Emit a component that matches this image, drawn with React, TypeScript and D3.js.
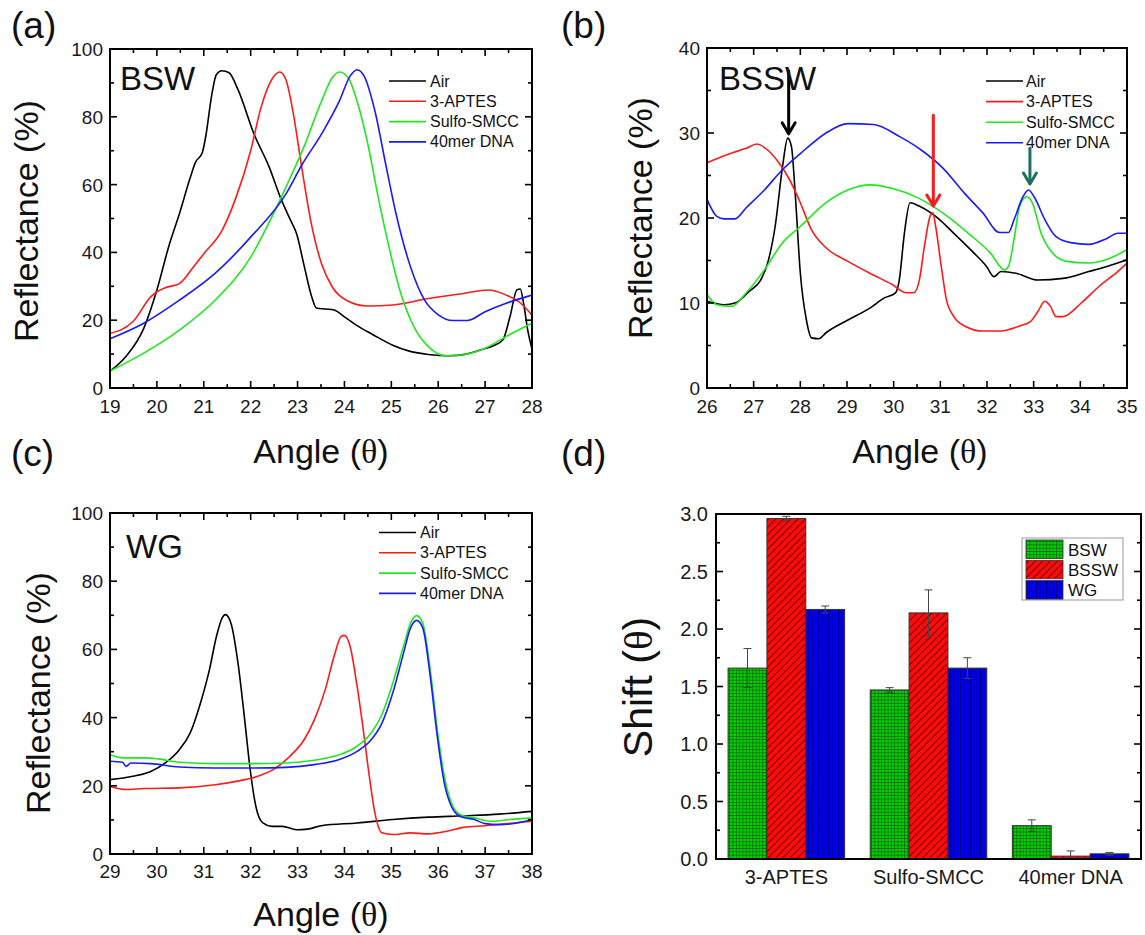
import React from 'react';
import * as d3 from 'd3';

const FONT = '"Liberation Sans", Arial, Helvetica, sans-serif';
const SERIF = '"Liberation Serif", "DejaVu Serif", serif';

type P = [number, number];

const seriesNames = ['Air', '3-APTES', 'Sulfo-SMCC', '40mer DNA'];
const seriesColors = ['#000000', '#ff1a1a', '#1fe81f', '#1a1aff'];

// ---------- Panel (a) BSW ----------
const bswAir: P[] = [
  [19.0, 5], [19.34, 9.3], [19.72, 17.6], [20.0, 28.9], [20.25, 41.6], [20.48, 51.4], [20.71, 62],
  [20.82, 66.5], [20.97, 69.5], [21.05, 74.9], [21.16, 85.6], [21.27, 92.5], [21.39, 93.6], [21.54, 93],
  [21.73, 88], [22.07, 75], [22.4, 65], [22.64, 56], [22.85, 49.5], [22.98, 45.5], [23.13, 36.7],
  [23.3, 27], [23.4, 23.6], [23.6, 23.3], [23.78, 23.0], [24.0, 21], [24.27, 18.4], [24.6, 15.8],
  [25.03, 12.6], [25.4, 10.8], [25.79, 9.9], [26.24, 9.5], [26.6, 10], [26.92, 11.3], [27.2, 12.6],
  [27.38, 14.2], [27.53, 21], [27.68, 29], [27.75, 29.2], [27.82, 25], [27.91, 17], [28.0, 11.5],
];
const bswApt: P[] = [
  [19.0, 16.1], [19.49, 19.6], [19.87, 26.9], [20.0, 28.4], [20.18, 29.6], [20.48, 30.8], [20.78, 35.7],
  [21.0, 39.6], [21.39, 46.5], [21.69, 56.3], [22.0, 70], [22.22, 82.7], [22.45, 91], [22.62, 93.2],
  [22.75, 91], [22.9, 81.7], [23.09, 65], [23.28, 49.4], [23.51, 36.7], [23.74, 29.8], [24.04, 25.9],
  [24.5, 24.2], [25.03, 24.5], [25.79, 26.4], [26.54, 27.9], [27.07, 28.9], [27.45, 27.4], [27.76, 25],
  [28.0, 21.5],
];
const bswSmcc: P[] = [
  [19.0, 5], [19.72, 10.3], [20.48, 17.1], [21.24, 25.9], [22.0, 38.6], [22.45, 50.4], [22.75, 59.2],
  [23.13, 70.9], [23.51, 84.6], [23.74, 91.5], [23.89, 93.2], [24.08, 91.5], [24.27, 84.6], [24.5, 71.9],
  [24.72, 56.3], [24.95, 41.6], [25.18, 28.9], [25.48, 18.1], [25.79, 12.2], [26.16, 9.5], [26.54, 9.8],
  [27.0, 11.7], [27.45, 15.2], [28.0, 19.1],
];
const bswDna: P[] = [
  [19.0, 14.5], [19.72, 19.1], [20.48, 25.9], [21.24, 33.8], [22.0, 44.5], [22.75, 57.2], [23.1, 66],
  [23.51, 74.9], [23.89, 84.6], [24.12, 92], [24.27, 93.9], [24.42, 92], [24.65, 81.7], [24.88, 66],
  [25.1, 51.4], [25.41, 35.7], [25.71, 25.9], [26.01, 21.5], [26.31, 19.9], [26.62, 19.9], [27.0, 22.5],
  [27.45, 25], [28.0, 27.4],
];

// ---------- Panel (b) BSSW ----------
const bsswAir: P[] = [
  [26.0, 10.2], [26.37, 9.8], [26.6, 10], [26.91, 11.4], [27.15, 12.7], [27.3, 14.7], [27.46, 19],
  [27.62, 26.1], [27.73, 29.4], [27.81, 28.4], [27.89, 22.9], [28.0, 13.5], [28.13, 8], [28.24, 5.9],
  [28.4, 5.8], [28.55, 6.5], [29.02, 8], [29.49, 9.4], [29.8, 10.6], [30.04, 11.2], [30.12, 12.7],
  [30.23, 18.2], [30.35, 21.8], [30.47, 21.6], [30.9, 20.2], [31.29, 18.2], [31.68, 16.1], [31.99, 14.3],
  [32.15, 13.1], [32.3, 13.7], [32.62, 13.5], [33.09, 12.7], [33.63, 12.9], [34.18, 13.7], [34.57, 14.3],
  [35.0, 15.1],
];
const bsswApt: P[] = [
  [26.0, 26.5], [26.45, 27.5], [26.84, 28.2], [27.07, 28.7], [27.3, 28], [27.54, 26.5], [27.77, 24.5],
  [28.0, 21.8], [28.24, 18.6], [28.55, 16.5], [29.02, 14.9], [29.49, 13.5], [29.96, 12.2], [30.27, 11.2],
  [30.43, 11.2], [30.55, 12.7], [30.66, 16.7], [30.78, 20.2], [30.84, 20.6], [30.9, 19], [31.02, 14.3],
  [31.13, 10.4], [31.29, 8.4], [31.52, 7.3], [31.91, 6.7], [32.3, 6.7], [32.7, 7.3], [32.93, 7.8],
  [33.09, 9], [33.24, 10.2], [33.36, 9.6], [33.48, 8.4], [33.63, 8.4], [34.02, 10], [34.41, 12],
  [34.8, 13.7], [35.0, 14.7],
];
const bsswSmcc: P[] = [
  [26.0, 11], [26.21, 9.8], [26.52, 9.6], [26.84, 11.2], [27.23, 13.9], [27.62, 17.1], [28.0, 19],
  [28.55, 21.8], [29.02, 23.3], [29.49, 23.9], [29.96, 23.5], [30.51, 22.4], [31.05, 20.6], [31.6, 18.2],
  [32.07, 15.9], [32.38, 13.9], [32.46, 14.3], [32.58, 17.5], [32.7, 21.4], [32.85, 22.5], [32.97, 21.8],
  [33.16, 18.2], [33.4, 15.9], [33.71, 14.9], [34.18, 14.7], [34.65, 15.3], [35.0, 16.3],
];
const bsswDna: P[] = [
  [26.0, 22.2], [26.21, 20.2], [26.37, 19.9], [26.6, 19.9], [26.84, 21.2], [27.23, 23.3], [27.62, 25.7],
  [28.09, 28], [28.55, 30], [29.02, 31.1], [29.57, 31], [30.12, 29.6], [30.59, 28], [31.05, 25.9],
  [31.52, 22.9], [31.91, 20.6], [32.27, 18.3], [32.46, 18.3], [32.58, 19.8], [32.77, 22.5], [32.89, 23.3],
  [33.01, 22.5], [33.24, 19.8], [33.48, 17.8], [33.79, 17.1], [34.18, 16.9], [34.57, 17.6], [34.8, 18.2],
  [35.0, 18.2],
];
const bsswArrowX = [27.75, 30.85, 32.92];
const bsswArrowFrom = [37.3, 32.1, 28.2];
const bsswArrowTo = [29.9, 21.4, 24.0];
const bsswArrowColors = ['#000000', '#ff1a1a', '#1f6e60'];

// ---------- Panel (c) WG ----------
const wgAir: P[] = [
  [29.0, 21.8], [29.49, 22.8], [29.87, 24.2], [30.18, 26.7], [30.48, 30.6], [30.71, 35.5], [30.93, 44.3],
  [31.12, 54], [31.27, 63.8], [31.39, 69.2], [31.46, 70.2], [31.58, 67.7], [31.73, 56], [31.88, 38.4],
  [31.99, 24.7], [32.11, 14], [32.26, 9.1], [32.45, 8.1], [32.68, 8.1], [32.98, 7.1], [33.21, 7.3],
  [33.51, 8.3], [34.27, 9.1], [35.03, 10.1], [35.79, 10.8], [36.54, 11.2], [37.3, 11.7], [38.0, 12.5],
];
const wgApt: P[] = [
  [29.0, 19.8], [29.34, 18.9], [29.72, 19.2], [30.48, 19.4], [31.24, 20.3], [31.69, 21.3], [32.15, 22.8],
  [32.53, 25.2], [32.83, 28.6], [33.14, 33.5], [33.36, 39.4], [33.59, 48.2], [33.78, 58], [33.93, 63.8],
  [34.0, 64.1], [34.12, 60.9], [34.27, 49.2], [34.42, 34.5], [34.53, 22.8], [34.65, 12], [34.8, 6.2],
  [35.03, 5.7], [35.41, 6.2], [35.79, 5.9], [36.16, 6.6], [36.54, 7.8], [37.0, 8.3], [37.45, 8.9],
  [38.0, 9.6],
];
const wgSmcc: P[] = [
  [29.0, 29.1], [29.27, 28.2], [29.72, 28.2], [30.02, 27.9], [30.48, 26.9], [31.24, 26.5], [32.0, 26.5],
  [32.75, 26.7], [33.36, 27.5], [33.89, 29.1], [34.27, 31.6], [34.57, 35.5], [34.8, 40.9], [35.03, 50.1],
  [35.26, 60.9], [35.41, 67.7], [35.54, 69.9], [35.67, 67.7], [35.83, 54.1], [35.98, 36.5], [36.13, 22.8],
  [36.28, 15], [36.47, 11.5], [36.77, 10.6], [37.15, 9.6], [37.53, 10.1], [38.0, 10.6],
];
const wgDna: P[] = [
  [29.0, 27.2], [29.27, 26.9], [29.34, 25.7], [29.45, 26.7], [29.87, 26.5], [30.48, 25.5], [31.24, 25.2],
  [32.0, 25.2], [32.75, 25.4], [33.36, 26.2], [33.89, 27.7], [34.27, 30.1], [34.57, 33.5], [34.8, 38.4],
  [35.03, 47.2], [35.26, 58.9], [35.41, 66.3], [35.54, 68.5], [35.67, 66.3], [35.83, 52.1], [35.98, 34.5],
  [36.13, 20.8], [36.28, 14], [36.47, 11], [36.77, 10.1], [37.0, 8.9], [37.3, 8.6], [37.68, 9.1],
  [38.0, 10.1],
];

// ---------- Panel (d) shifts ----------
const shiftCategories = ['3-APTES', 'Sulfo-SMCC', '40mer DNA'];
const shiftSeries = ['BSW', 'BSSW', 'WG'];
const shiftBSW = [1.66, 1.47, 0.29];
const errBSW = [0.17, 0.02, 0.05];
const shiftBSSW = [2.96, 2.14, 0.025];
const errBSSW = [0.02, 0.2, 0.045];
const shiftWG = [2.17, 1.66, 0.045];
const errWG = [0.03, 0.09, 0.012];
const shiftTicks = [0, 0.5, 1.0, 1.5, 2.0, 2.5, 3.0];

type PanelCfg = {
  left: number; right: number; top: number; bottom: number;
  xDomain: [number, number]; yDomain: [number, number];
  xStep: number; yStep: number;
  series: P[][];
  tag: string; tagX: number; tagY: number;
  name: string; nameX: number; nameY: number;
  legLine: [number, number]; legTextX: number; legY0: number; legStep: number;
  yLabX: number; yLabY: number; xLabX: number; xLabY: number;
  xTickY: number;
};

function Theta() {
  return <tspan fontFamily={SERIF}>θ</tspan>;
}

function LinePanel({ c, children }: { c: PanelCfg; children?: (x: any, y: any) => React.ReactNode }) {
  const x = d3.scaleLinear().domain(c.xDomain).range([c.left, c.right]);
  const y = d3.scaleLinear().domain(c.yDomain).range([c.bottom, c.top]);
  const line = d3.line<P>().x(d => x(d[0])).y(d => y(d[1])).curve(d3.curveMonotoneX);
  const xMaj = d3.range(c.xDomain[0], c.xDomain[1] + 1e-9, c.xStep);
  const xMin = d3.range(c.xDomain[0] + c.xStep / 2, c.xDomain[1], c.xStep);
  const yMaj = d3.range(c.yDomain[0], c.yDomain[1] + 1e-9, c.yStep);
  const yMin = d3.range(c.yDomain[0] + c.yStep / 2, c.yDomain[1], c.yStep);
  const M = 7, m = 4;
  return (
    <g>
      <clipPath id={`clip-${c.tag}`}>
        <rect x={c.left} y={c.top} width={c.right - c.left} height={c.bottom - c.top} />
      </clipPath>
      <g clipPath={`url(#clip-${c.tag})`}>
        {c.series.map((s, i) => (
          <path key={i} d={line(s) || ''} fill="none" stroke={seriesColors[i]} strokeWidth={1.6} />
        ))}
      </g>
      {children && children(x, y)}
      <g stroke="#000" strokeWidth={1.6}>
        {xMaj.map(v => (
          <g key={'xM' + v}>
            <line x1={x(v)} x2={x(v)} y1={c.bottom} y2={c.bottom - M} />
            <line x1={x(v)} x2={x(v)} y1={c.top} y2={c.top + M} />
          </g>
        ))}
        {xMin.map(v => (
          <g key={'xm' + v}>
            <line x1={x(v)} x2={x(v)} y1={c.bottom} y2={c.bottom - m} />
            <line x1={x(v)} x2={x(v)} y1={c.top} y2={c.top + m} />
          </g>
        ))}
        {yMaj.map(v => (
          <g key={'yM' + v}>
            <line x1={c.left} x2={c.left + M} y1={y(v)} y2={y(v)} />
            <line x1={c.right} x2={c.right - M} y1={y(v)} y2={y(v)} />
          </g>
        ))}
        {yMin.map(v => (
          <g key={'ym' + v}>
            <line x1={c.left} x2={c.left + m} y1={y(v)} y2={y(v)} />
            <line x1={c.right} x2={c.right - m} y1={y(v)} y2={y(v)} />
          </g>
        ))}
      </g>
      <rect x={c.left} y={c.top} width={c.right - c.left} height={c.bottom - c.top} fill="none" stroke="#000" strokeWidth={2} />
      <g fontFamily={FONT} fontSize={19} fill="#1a1a1a">
        {xMaj.map(v => (
          <text key={'xl' + v} x={x(v)} y={c.xTickY} textAnchor="middle">{v}</text>
        ))}
        {yMaj.map(v => (
          <text key={'yl' + v} x={c.left - 7} y={y(v) + 7} textAnchor="end">{v}</text>
        ))}
      </g>
      <g fontFamily={FONT} fontSize={16} fill="#111">
        {seriesNames.map((n, i) => {
          const yy = c.legY0 + i * c.legStep;
          return (
            <g key={n}>
              <line x1={c.legLine[0]} x2={c.legLine[1]} y1={yy} y2={yy} stroke={seriesColors[i]} strokeWidth={1.6} />
              <text x={c.legTextX} y={yy + 5.5}>{n}</text>
            </g>
          );
        })}
      </g>
      <text x={c.nameX} y={c.nameY} fontFamily={FONT} fontSize={33} fill="#111">{c.name}</text>
      <text x={c.tagX} y={c.tagY} fontFamily={FONT} fontSize={37} fill="#111">{c.tag}</text>
      <text transform={`translate(${c.yLabX},${c.yLabY}) rotate(-90)`} textAnchor="middle" fontFamily={FONT} fontSize={34} fill="#111">
        Reflectance (%)
      </text>
      <text x={c.xLabX} y={c.xLabY} textAnchor="middle" fontFamily={FONT} fontSize={34} fill="#111">
        Angle (<Theta />)
      </text>
    </g>
  );
}

const cfgA: PanelCfg = {
  left: 110, right: 532, top: 49, bottom: 388, xDomain: [19, 28], yDomain: [0, 100], xStep: 1, yStep: 20,
  series: [bswAir, bswApt, bswSmcc, bswDna],
  tag: '(a)', tagX: 11, tagY: 38, name: 'BSW', nameX: 120, nameY: 90,
  legLine: [389, 426], legTextX: 430, legY0: 81, legStep: 20.3,
  yLabX: 38, yLabY: 221, xLabX: 321, xLabY: 463, xTickY: 413,
};
const cfgB: PanelCfg = {
  left: 707, right: 1127, top: 48, bottom: 388, xDomain: [26, 35], yDomain: [0, 40], xStep: 1, yStep: 10,
  series: [bsswAir, bsswApt, bsswSmcc, bsswDna],
  tag: '(b)', tagX: 561, tagY: 38, name: 'BSSW', nameX: 719, nameY: 90,
  legLine: [986, 1023], legTextX: 1026, legY0: 81, legStep: 20.6,
  yLabX: 652, yLabY: 218, xLabX: 920, xLabY: 463, xTickY: 413,
};
const cfgC: PanelCfg = {
  left: 110, right: 532, top: 513, bottom: 854, xDomain: [29, 38], yDomain: [0, 100], xStep: 1, yStep: 20,
  series: [wgAir, wgApt, wgSmcc, wgDna],
  tag: '(c)', tagX: 11, tagY: 466, name: 'WG', nameX: 126, nameY: 558,
  legLine: [379, 416], legTextX: 420, legY0: 532.5, legStep: 20.3,
  yLabX: 50, yLabY: 693, xLabX: 321, xLabY: 926, xTickY: 878,
};

function Arrow({ x, y0, y1, color }: { x: number; y0: number; y1: number; color: string }) {
  return (
    <g stroke={color} strokeWidth={3} fill="none" strokeLinecap="round" strokeLinejoin="round">
      <line x1={x} x2={x} y1={y0} y2={y1 - 1} />
      <polyline points={`${x - 6.5},${y1 - 11} ${x},${y1} ${x + 6.5},${y1 - 11}`} />
    </g>
  );
}

function BarPanel() {
  const left = 716, right = 1141, top = 514, bottom = 859;
  const y = d3.scaleLinear().domain([0, 3]).range([bottom, top]);
  const xg = d3.scaleBand<string>().domain(shiftCategories).range([left, right]).paddingInner(0.18).paddingOuter(0.085);
  const xs = d3.scaleBand<string>().domain(shiftSeries).range([0, xg.bandwidth()]);
  const values = [shiftBSW, shiftBSSW, shiftWG];
  const errs = [errBSW, errBSSW, errWG];
  const fills = ['url(#patGreen)', 'url(#patRed)', 'url(#patBlue)'];
  const minor = d3.range(0.25, 3, 0.5);
  return (
    <g>
      <defs>
        <pattern id="patGreen" width={3.3} height={3.3} patternUnits="userSpaceOnUse">
          <rect width={3.3} height={3.3} fill="#00d200" />
          <path d="M0 0.3 H3.3 M0.3 0 V3.3" stroke="#0b4f0b" strokeWidth={0.7} />
        </pattern>
        <pattern id="patRed" width={5.2} height={5.2} patternUnits="userSpaceOnUse" patternTransform="rotate(45)">
          <rect width={5.2} height={5.2} fill="#ff0a0a" />
          <line x1={0.5} x2={0.5} y1={0} y2={5.2} stroke="#5a0000" strokeWidth={0.9} />
        </pattern>
        <pattern id="patBlue" width={3.3} height={3.3} patternUnits="userSpaceOnUse">
          <rect width={3.3} height={3.3} fill="#0000f0" />
          <line x1={0.4} x2={0.4} y1={0} y2={3.3} stroke="#00006a" strokeWidth={0.8} />
        </pattern>
      </defs>
      {shiftCategories.map((cat, ci) => (
        <g key={cat}>
          {shiftSeries.map((s, si) => {
            const bx = (xg(cat) || 0) + (xs(s) || 0);
            const w = xs.bandwidth();
            const v = values[si][ci];
            const e = errs[si][ci];
            const cx = bx + w / 2;
            return (
              <g key={s}>
                <rect x={bx} y={y(v)} width={w} height={bottom - y(v)} fill={fills[si]} stroke="#333" strokeWidth={1} />
                <g stroke="#444" strokeWidth={1}>
                  <line x1={cx} x2={cx} y1={y(v + e)} y2={y(Math.max(0, v - e))} />
                  <line x1={cx - 4} x2={cx + 4} y1={y(v + e)} y2={y(v + e)} />
                  <line x1={cx - 4} x2={cx + 4} y1={y(Math.max(0, v - e))} y2={y(Math.max(0, v - e))} />
                </g>
              </g>
            );
          })}
        </g>
      ))}
      <g stroke="#000" strokeWidth={1.6}>
        {shiftTicks.map(v => (
          <g key={'M' + v}>
            <line x1={left} x2={left + 7} y1={y(v)} y2={y(v)} />
            <line x1={right} x2={right - 7} y1={y(v)} y2={y(v)} />
          </g>
        ))}
        {minor.map(v => (
          <g key={'m' + v}>
            <line x1={left} x2={left + 4} y1={y(v)} y2={y(v)} />
            <line x1={right} x2={right - 4} y1={y(v)} y2={y(v)} />
          </g>
        ))}
      </g>
      <rect x={left} y={top} width={right - left} height={bottom - top} fill="none" stroke="#000" strokeWidth={2} />
      <g fontFamily={FONT} fontSize={20} fill="#1a1a1a">
        {shiftTicks.map(v => (
          <text key={'t' + v} x={left - 8} y={y(v) + 7} textAnchor="end">{d3.format('.1f')(v)}</text>
        ))}
        {shiftCategories.map(cat => (
          <text key={'c' + cat} x={(xg(cat) || 0) + xg.bandwidth() / 2} y={884} textAnchor="middle">{cat}</text>
        ))}
      </g>
      <rect x={1022} y={538} width={101} height={62} fill="#fff" stroke="#999" strokeWidth={1} />
      {shiftSeries.map((s, si) => {
        const yy = 540 + si * 20.3;
        return (
          <g key={'lg' + s}>
            <rect x={1026} y={yy} width={37} height={18.5} fill={fills[si]} stroke="#333" strokeWidth={0.8} />
            <text x={1068} y={yy + 15.5} fontFamily={FONT} fontSize={17} fill="#111">{s}</text>
          </g>
        );
      })}
      <text x={561} y={466} fontFamily={FONT} fontSize={37} fill="#111">(d)</text>
      <text transform={`translate(652,687) rotate(-90)`} textAnchor="middle" fontFamily={FONT} fontSize={41} fill="#111">
        Shift (<Theta />)
      </text>
    </g>
  );
}

export default function App() {
  return (
    <svg width={1145} height={935} viewBox="0 0 1145 935" style={{ position: 'absolute', left: 0, top: 0, background: '#fff' }}>
      <rect width={1145} height={935} fill="#fff" />
      <LinePanel c={cfgA} />
      <LinePanel c={cfgB}>
        {(x: any, y: any) =>
          bsswArrowX.map((ax, i) => (
            <Arrow key={i} x={x(ax)} y0={y(bsswArrowFrom[i])} y1={y(bsswArrowTo[i])} color={bsswArrowColors[i]} />
          ))
        }
      </LinePanel>
      <LinePanel c={cfgC} />
      <BarPanel />
    </svg>
  );
}
